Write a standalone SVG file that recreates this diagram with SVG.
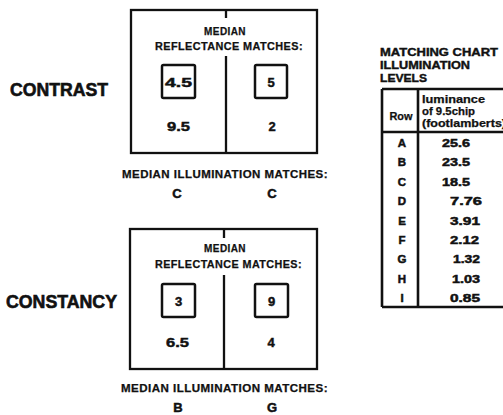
<svg xmlns="http://www.w3.org/2000/svg" width="503" height="415" viewBox="0 0 503 415">
<style>
text{font-family:"Liberation Sans",Arial,sans-serif;font-weight:bold;fill:#111}
.big{font-size:17.5px;stroke:#111;stroke-width:0.6}
.lbl{font-size:10px;letter-spacing:0.4px;stroke:#111;stroke-width:0.25}
.num{font-size:13px;stroke:#111;stroke-width:0.45}
.let{font-size:13px;stroke:#111;stroke-width:0.5}
.box{fill:none;stroke:#111;stroke-width:2.3}
.sb{fill:none;stroke:#111;stroke-width:2.5}
.ln{stroke:#111;stroke-width:2.3;fill:none}
.tl{stroke:#111;stroke-width:2.6;fill:none}
.tt{font-size:10.5px;stroke:#111;stroke-width:0.4}
.th{font-size:10px;stroke:#111;stroke-width:0.25}
.tv{font-size:11.5px;stroke:#111;stroke-width:0.5}
.tm{text-anchor:middle}
</style>
<rect width="503" height="415" fill="#fff"/>
<g id="contrast">
<text class="big" x="10" y="96" textLength="98" lengthAdjust="spacingAndGlyphs">CONTRAST</text>
<rect class="box" x="131" y="10" width="186" height="143"/>
<line class="ln" x1="226" y1="10" x2="226" y2="18"/>
<line class="ln" x1="226" y1="56" x2="226" y2="153"/>
<text class="lbl tm" x="225" y="35">MEDIAN</text>
<text class="lbl" x="155" y="50" textLength="148" lengthAdjust="spacingAndGlyphs">REFLECTANCE MATCHES:</text>
<rect class="sb" x="162" y="65" width="33" height="33" rx="1.5"/>
<text class="num" x="165" y="87" textLength="27" lengthAdjust="spacingAndGlyphs">4.5</text>
<rect class="sb" x="255" y="65" width="32" height="33" rx="1.5"/>
<text class="num tm" x="271" y="87">5</text>
<text class="num" x="167" y="131" textLength="23" lengthAdjust="spacingAndGlyphs">9.5</text>
<text class="num tm" x="272" y="131">2</text>
<text class="lbl" x="122" y="178" textLength="206" lengthAdjust="spacingAndGlyphs">MEDIAN ILLUMINATION MATCHES:</text>
<text class="let tm" x="177" y="198">C</text>
<text class="let tm" x="272" y="198">C</text>
</g>
<g id="constancy">
<text class="big" x="6" y="308" textLength="111" lengthAdjust="spacingAndGlyphs">CONSTANCY</text>
<rect class="box" x="130" y="229" width="187" height="140"/>
<line class="ln" x1="224" y1="229" x2="224" y2="238"/>
<line class="ln" x1="224" y1="275" x2="224" y2="369"/>
<text class="lbl tm" x="225" y="252">MEDIAN</text>
<text class="lbl" x="155" y="268" textLength="147" lengthAdjust="spacingAndGlyphs">REFLECTANCE MATCHES:</text>
<rect class="sb" x="162" y="284" width="33" height="33" rx="1.5"/>
<text class="num tm" x="178.5" y="306">3</text>
<rect class="sb" x="255" y="284" width="33" height="33" rx="1.5"/>
<text class="num tm" x="271.5" y="306">9</text>
<text class="num" x="166" y="347" textLength="23" lengthAdjust="spacingAndGlyphs">6.5</text>
<text class="num tm" x="271" y="347">4</text>
<text class="lbl" x="121" y="392" textLength="207" lengthAdjust="spacingAndGlyphs">MEDIAN ILLUMINATION MATCHES:</text>
<text class="let tm" x="178" y="412">B</text>
<text class="let tm" x="272" y="412">G</text>
</g>
<g id="chart">
<text class="tt" x="380" y="56" textLength="118" lengthAdjust="spacingAndGlyphs">MATCHING CHART</text>
<text class="tt" x="380" y="69" textLength="90" lengthAdjust="spacingAndGlyphs">ILLUMINATION</text>
<text class="tt" x="380" y="82" textLength="47" lengthAdjust="spacingAndGlyphs">LEVELS</text>
<line class="tl" x1="382" y1="89" x2="503" y2="89"/>
<line class="tl" x1="382" y1="89" x2="382" y2="307"/>
<line class="tl" x1="382" y1="307" x2="503" y2="307"/>
<line class="tl" x1="418" y1="89" x2="418" y2="307"/>
<line class="tl" x1="382" y1="132" x2="503" y2="132"/>
<text class="th tm" x="401" y="120" textLength="23" lengthAdjust="spacingAndGlyphs">Row</text>
<text class="th" x="422" y="103" textLength="63" lengthAdjust="spacingAndGlyphs">luminance</text>
<text class="th" x="422" y="115" textLength="53" lengthAdjust="spacingAndGlyphs">of 9.5chip</text>
<text class="th" x="422" y="127" textLength="84" lengthAdjust="spacingAndGlyphs">(footlamberts)</text>
<g class="tv">
<text class="tm" x="402" y="147">A</text>
<text class="tm" x="402" y="166">B</text>
<text class="tm" x="402" y="186">C</text>
<text class="tm" x="402" y="205">D</text>
<text class="tm" x="402" y="225">E</text>
<text class="tm" x="402" y="244">F</text>
<text class="tm" x="402" y="263">G</text>
<text class="tm" x="402" y="283">H</text>
<text class="tm" x="402" y="302">I</text>
<text x="442" y="147" textLength="28" lengthAdjust="spacingAndGlyphs">25.6</text>
<text x="442" y="166" textLength="28" lengthAdjust="spacingAndGlyphs">23.5</text>
<text x="442" y="186" textLength="28" lengthAdjust="spacingAndGlyphs">18.5</text>
<text x="450" y="205" textLength="32" lengthAdjust="spacingAndGlyphs">7.76</text>
<text x="450" y="225" textLength="30" lengthAdjust="spacingAndGlyphs">3.91</text>
<text x="450" y="244" textLength="29" lengthAdjust="spacingAndGlyphs">2.12</text>
<text x="453" y="263" textLength="27" lengthAdjust="spacingAndGlyphs">1.32</text>
<text x="452" y="283" textLength="28" lengthAdjust="spacingAndGlyphs">1.03</text>
<text x="450" y="302" textLength="30" lengthAdjust="spacingAndGlyphs">0.85</text>
</g>
</g>
<g id="connectors"/>
</svg>
